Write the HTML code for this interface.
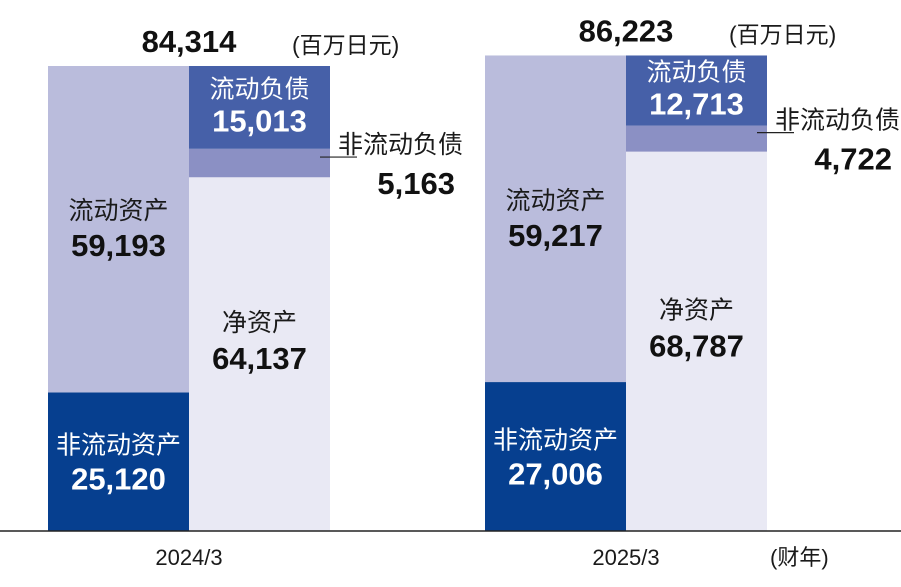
<!DOCTYPE html>
<html><head><meta charset="utf-8"><style>
html,body{margin:0;padding:0;background:#fff;}
svg text{font-family:"Liberation Sans","Noto Sans CJK SC",sans-serif;}
</style></head><body>
<svg id="c" width="901" height="582" viewBox="0 0 901 582" xmlns="http://www.w3.org/2000/svg"></svg>
<script>
const periods = ["2024/3","2025/3"];
const totals = ["84,314","86,223"];
const currentAssets = [59193, 59217];
const nonCurrentAssets = [25120, 27006];
const currentLiabilities = [15013, 12713];
const nonCurrentLiabilities = [5163, 4722];
const netAssets = [64137, 68787];
const fmt = v => v.toLocaleString('en-US');

const svg = document.getElementById('c');
const NS = 'http://www.w3.org/2000/svg';
const base = 531, scale = 465/84314;
const y = v => base - v*scale;
const h = v => v*scale;
const groupX = [48, 485];
const bw = 141;

function mk(tag, attrs, parent){
  const e = document.createElementNS(NS, tag);
  for (const k in attrs) e.setAttribute(k, attrs[k]);
  (parent||svg).appendChild(e);
  return e;
}
function txt(x, yy, s, size, weight, fill, anchor, name){
  const t = mk('text', {x:x, y:yy, 'font-size':size, 'font-weight':weight, fill:fill, 'text-anchor':anchor||'middle'});
  t.textContent = s;
  
  
  return t;
}
function rect(x, yy, w, hh, fill, name){
  const r = mk('rect', {x:x, y:yy, width:w, height:hh, fill:fill});
  
  
  return r;
}

periods.forEach((p, i) => {
  const x0 = groupX[i], x1 = x0 + bw;
  const tot = nonCurrentAssets[i] + currentAssets[i];
  const nca = nonCurrentAssets[i], ca = currentAssets[i];
  rect(x0, y(nca), bw, h(nca), '#063f8f', 'bar-non-current-assets-'+i);
  rect(x0, y(nca+ca), bw, h(ca), '#babcdc', 'bar-current-assets-'+i);
  const na = netAssets[i], ncl = nonCurrentLiabilities[i], cl = currentLiabilities[i];
  rect(x1, y(na), bw, h(na), '#e9e9f4', 'bar-net-assets-'+i);
  rect(x1, y(na+ncl), bw, h(ncl), '#8b90c4', 'bar-non-current-liabilities-'+i);
  rect(x1, y(na+ncl+cl), bw, h(cl), '#4660a8', 'bar-current-liabilities-'+i);

  const cx0 = x0 + bw/2, cx1 = x1 + bw/2;
  let m = y(nca/2);
  txt(cx0, m-8, '非流动资产', 25, 'normal', '#fff', 'middle', 'label-non-current-assets-'+i);
  txt(cx0, m+28, fmt(nca), 31, 'bold', '#fff', 'middle', 'value-non-current-assets-'+i);
  m = y(nca + ca/2);
  txt(cx0, m-10, '流动资产', 25, 'normal', '#1a1a1a', 'middle', 'label-current-assets-'+i);
  txt(cx0, m+27, fmt(ca), 31, 'bold', '#111', 'middle', 'value-current-assets-'+i);
  m = y(na/2);
  txt(cx1, m-23, '净资产', 25, 'normal', '#1a1a1a', 'middle', 'label-net-assets-'+i);
  txt(cx1, m+15, fmt(na), 31, 'bold', '#111', 'middle', 'value-net-assets-'+i);
  m = y(na+ncl+cl/2);
  txt(cx1, m-10, '流动负债', 25, 'normal', '#fff', 'middle', 'label-current-liabilities-'+i);
  txt(cx1, m+24, fmt(cl), 31, 'bold', '#fff', 'middle', 'value-current-liabilities-'+i);
  m = y(na+ncl/2);
  const l = mk('line', {x1:x1+bw-10, y1:m-6, x2:x1+bw+27, y2:m-6, stroke:'#222', 'stroke-width':1.2});
  
  
  txt(x1+bw+8, m-10, '非流动负债', 25, 'normal', '#1a1a1a', 'start', 'label-non-current-liabilities-'+i);
  txt(x1+bw+125, m+31, fmt(ncl), 31, 'bold', '#111', 'end', 'value-non-current-liabilities-'+i);
  txt(x0+141, y(tot)-14, totals[i], 31, 'bold', '#111', 'middle', 'total-'+i);
  txt(x0+244, y(tot)-13, '(百万日元)', 23, 'normal', '#1a1a1a', 'start', 'unit-label-'+i);
  txt(x1, 565, p, 22, 'normal', '#1a1a1a', 'middle', 'x-label-'+i);
});
const ax = mk('line', {x1:0, y1:base, x2:901, y2:base, stroke:'#222', 'stroke-width':1.5});


txt(770, 565, '(财年)', 22, 'normal', '#1a1a1a', 'start', 'x-axis-unit');
</script>
</body></html>
